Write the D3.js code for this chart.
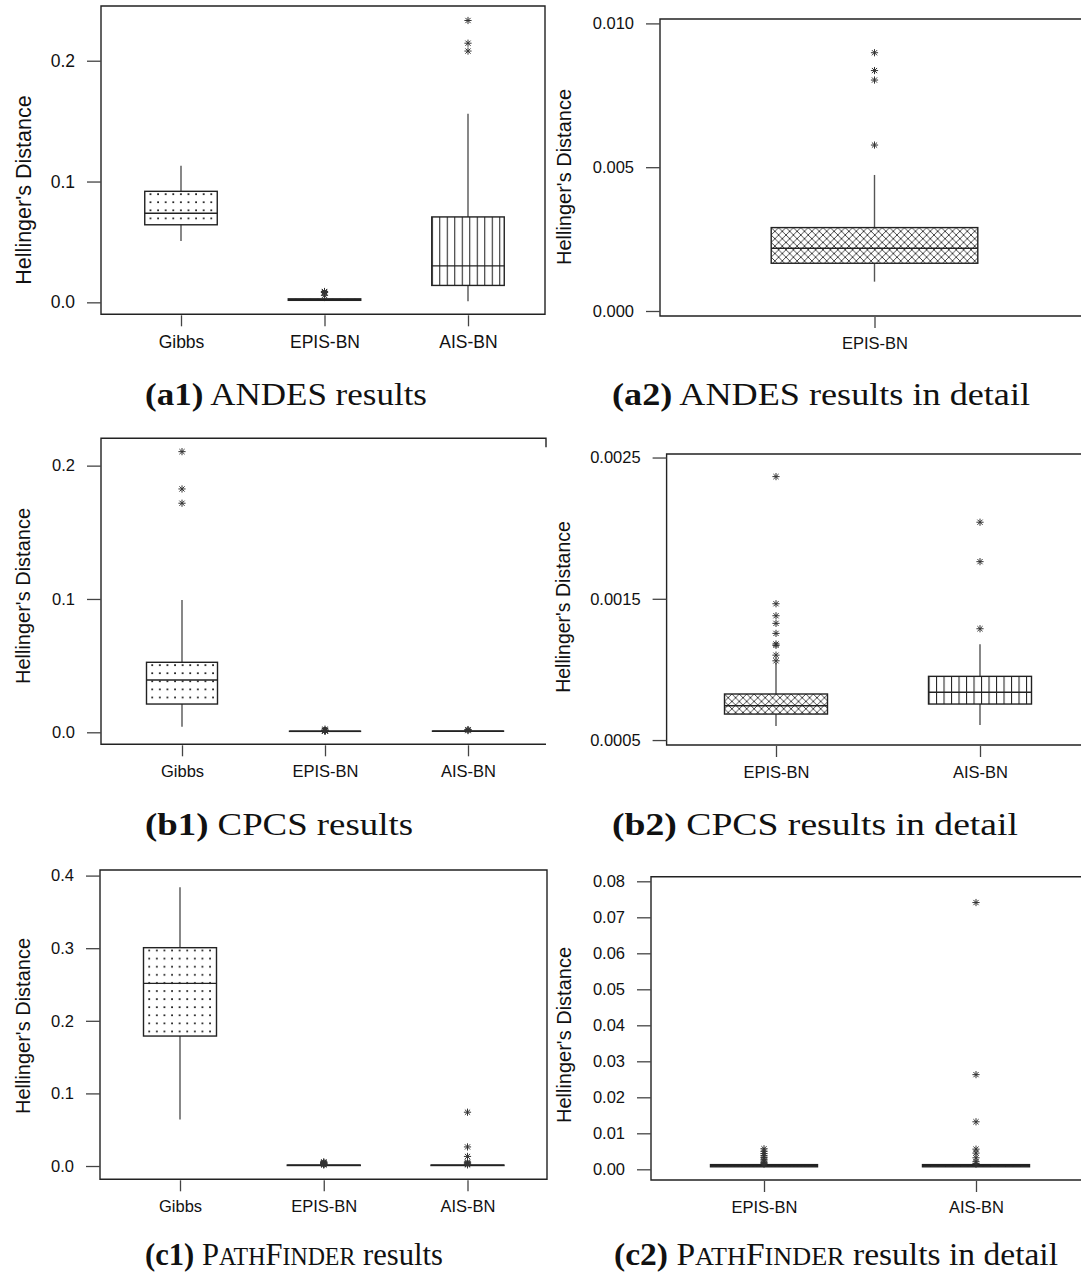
<!DOCTYPE html>
<html><head><meta charset="utf-8">
<script src="https://cdn.jsdelivr.net/npm/d3@7"></script>
<style>body{margin:0;background:#fff}svg{display:block}</style>
</head><body>
<svg id="chart" width="1081" height="1279"></svg>
<script>
// ---------- DATA (box stats: [lower whisker, Q1, median, Q3, upper whisker]) ----------
const allMethods = ["Gibbs", "EPIS-BN", "AIS-BN"];
const detailMethodsA = ["EPIS-BN"];
const detailMethods = ["EPIS-BN", "AIS-BN"];

const andesGibbs = [0.0507, 0.0642, 0.0737, 0.0919, 0.1131];
const andesGibbsOut = [];
const andesEpis = [0.00102, 0.00166, 0.00218, 0.0029, 0.00473];
const andesEpisOut = [0.00577, 0.00803, 0.00836, 0.00898];
const andesAis = [0.001, 0.0140, 0.0302, 0.0707, 0.1562];
const andesAisOut = [0.2080, 0.2145, 0.2333];

const cpcsGibbs = [0.0042, 0.0212, 0.0392, 0.0525, 0.0993];
const cpcsGibbsOut = [0.1718, 0.1825, 0.2105];
const cpcsEpis = [0.000600, 0.000684, 0.000743, 0.000826, 0.001045];
const cpcsEpisOut = [0.001061, 0.001101, 0.001170, 0.001180, 0.001255, 0.001326, 0.001380, 0.001465, 0.002365];
const cpcsAis = [0.000606, 0.000755, 0.000838, 0.000951, 0.001178];
const cpcsAisOut = [0.001288, 0.001763, 0.002042];

const pfGibbs = [0.0640, 0.1790, 0.2516, 0.3007, 0.3838];
const pfGibbsOut = [];
const pfEpis = [0.0005, 0.0007, 0.0010, 0.0013, 0.0014];
const pfEpisOut = [0.0016, 0.0019, 0.0023, 0.0028, 0.0033, 0.0038, 0.0044, 0.0050, 0.0057];
const pfAis = [0.0005, 0.0007, 0.0010, 0.0013, 0.0014];
const pfAisOut = [0.0016, 0.0021, 0.0032, 0.0045, 0.0056, 0.0132, 0.0263, 0.0741];

const ticksAndes = [0.0, 0.1, 0.2];
const tickLabelsAndes = ["0.0", "0.1", "0.2"];
const ticksAndesDetail = [0.000, 0.005, 0.010];
const tickLabelsAndesDetail = ["0.000", "0.005", "0.010"];
const ticksCpcs = [0.0, 0.1, 0.2];
const tickLabelsCpcs = ["0.0", "0.1", "0.2"];
const ticksCpcsDetail = [0.0005, 0.0015, 0.0025];
const tickLabelsCpcsDetail = ["0.0005", "0.0015", "0.0025"];
const ticksPf = [0.0, 0.1, 0.2, 0.3, 0.4];
const tickLabelsPf = ["0.0", "0.1", "0.2", "0.3", "0.4"];
const ticksPfDetail = [0.00, 0.01, 0.02, 0.03, 0.04, 0.05, 0.06, 0.07, 0.08];
const tickLabelsPfDetail = ["0.00", "0.01", "0.02", "0.03", "0.04", "0.05", "0.06", "0.07", "0.08"];

const yTitle = "Hellinger's Distance";

// ---------- DRAWING ----------
const svg = d3.select("#chart");
const defs = svg.append("defs");
const INK = "#222";
let patId = 0;

function makePattern(kind, x0, y0) {
  const id = "pat" + (patId++);
  const p = defs.append("pattern").attr("id", id).attr("patternUnits", "userSpaceOnUse");
  if (kind === "Gibbs") {
    p.attr("width", 7.6).attr("height", 8.1).attr("x", x0).attr("y", y0);
    p.append("rect").attr("x", 4.9).attr("y", 2.0).attr("width", 1.7).attr("height", 1.7).attr("fill", "#111");
  } else if (kind === "EPIS-BN") {
    const s = 7.4;
    p.attr("width", s).attr("height", s).attr("x", x0).attr("y", y0);
    p.append("path").attr("d", `M0,0L${s},${s}M${s},0L0,${s}M-1,${s-1}L1,${s+1}M${s-1},-1L${s+1},1`)
      .attr("stroke", "#333").attr("stroke-width", 0.9).attr("fill", "none");
  } else {
    p.attr("width", 7.5).attr("height", 10).attr("x", x0).attr("y", y0);
    p.append("line").attr("x1", 0.5).attr("x2", 0.5).attr("y1", 0).attr("y2", 10)
      .attr("stroke", "#222").attr("stroke-width", 1.1);
  }
  return "url(#" + id + ")";
}

function star(g, cx, cy) {
  const r = 3.6, d = 2.6;
  g.append("path")
    .attr("d", `M${cx-r},${cy}H${cx+r}M${cx},${cy-r}V${cy+r}M${cx-d},${cy-d}L${cx+d},${cy+d}M${cx-d},${cy+d}L${cx+d},${cy-d}`)
    .attr("stroke", "#333").attr("stroke-width", 1).attr("fill", "none");
}

function drawPanel(p) {
  const g = svg.append("g");
  const f = p.frame;
  const y = d3.scaleLinear().domain(p.domain).range([f.b, f.t]);
  const x = d3.scalePoint().domain(p.cats).range(p.xRange);

  let d;
  if (p.partialRight) d = `M${f.r},${f.t + 9}V${f.t}H${f.l}V${f.b}H${f.r}`;
  else d = `M${f.l},${f.t}H${f.r}V${f.b}H${f.l}Z`;
  g.append("path").attr("d", d).attr("fill", "none").attr("stroke", INK).attr("stroke-width", 1.4);

  const ya = d3.axisLeft(y).tickValues(p.ticks).tickFormat((v, i) => p.tickLabels[i]).tickSize(14).tickPadding(12);
  const yg = g.append("g").attr("transform", `translate(${f.l},0)`).call(ya);
  yg.select(".domain").remove();
  yg.selectAll("line").attr("stroke", "#444").attr("stroke-width", 1.3);
  yg.selectAll("text").attr("font-size", p.tickFont).attr("font-family", "Liberation Sans, Arial, sans-serif").attr("fill", "#111");

  const xa = d3.axisBottom(x).tickSize(11).tickPadding(9);
  const xg = g.append("g").attr("transform", `translate(0,${f.b + 1})`).call(xa);
  xg.select(".domain").remove();
  xg.selectAll("line").attr("stroke", "#444").attr("stroke-width", 1.3);
  xg.selectAll("text").attr("font-size", p.catFont).attr("font-family", "Liberation Sans, Arial, sans-serif").attr("fill", "#111");

  g.append("text")
    .attr("transform", `translate(${p.titleX},${p.titleY}) rotate(-90)`)
    .attr("text-anchor", "middle").attr("dy", "0.36em")
    .attr("font-size", p.titleFont).attr("font-family", "Liberation Sans, Arial, sans-serif").attr("fill", "#111")
    .text(yTitle);

  p.cats.forEach((c, i) => {
    const [lo, q1, med, q3, hi] = p.stats[i];
    const cx = x(c), w = p.boxW, x0 = cx - w / 2;
    const ln = (ya1, ya2, col, sw) => g.append("line").attr("x1", cx).attr("x2", cx).attr("y1", ya1).attr("y2", ya2)
      .attr("stroke", col).attr("stroke-width", sw);
    ln(y(hi), y(q3), "#555", 1.4);
    ln(y(q1), y(lo), "#555", 1.4);
    g.append("rect").attr("x", x0).attr("y", y(q3)).attr("width", w).attr("height", Math.max(0.01, y(q1) - y(q3)))
      .attr("fill", makePattern(c, x0, y(q3))).attr("stroke", INK).attr("stroke-width", 1.4);
    g.append("line").attr("x1", x0).attr("x2", x0 + w).attr("y1", y(med)).attr("y2", y(med))
      .attr("stroke", INK).attr("stroke-width", 1.4);
    p.outs[i].forEach(v => star(g, cx, y(v)));
  });
}

const panels = [
  { cats: allMethods, stats: [andesGibbs, andesEpis, andesAis], outs: [andesGibbsOut, andesEpisOut, andesAisOut],
    ticks: ticksAndes, tickLabels: tickLabelsAndes, frame: { l: 101, t: 6, r: 545, b: 314.3 },
    domain: [-0.0099, 0.2453], xRange: [181, 468], boxW: 72.5, tickFont: 17.5, catFont: 17.5, titleFont: 21.5, titleX: 23, titleY: 190 },
  { cats: detailMethodsA, stats: [andesEpis], outs: [andesEpisOut],
    ticks: ticksAndesDetail, tickLabels: tickLabelsAndesDetail, frame: { l: 660, t: 19, r: 1100, b: 316 },
    domain: [-0.000174, 0.010153], xRange: [874.5, 874.5], boxW: 206.6, tickFont: 16.5, catFont: 16.5, titleFont: 20, titleX: 564, titleY: 177 },
  { cats: allMethods, stats: [cpcsGibbs, cpcsEpis, cpcsAis], outs: [cpcsGibbsOut, cpcsEpisOut, cpcsAisOut],
    ticks: ticksCpcs, tickLabels: tickLabelsCpcs, frame: { l: 101, t: 438.3, r: 546, b: 744.3 }, partialRight: true,
    domain: [-0.0090, 0.2205], xRange: [182, 468], boxW: 71, tickFont: 16.5, catFont: 16.5, titleFont: 20, titleX: 23, titleY: 596 },
  { cats: detailMethods, stats: [cpcsEpis, cpcsAis], outs: [cpcsEpisOut, cpcsAisOut],
    ticks: ticksCpcsDetail, tickLabels: tickLabelsCpcsDetail, frame: { l: 666.6, t: 454, r: 1100, b: 745 },
    domain: [0.000465, 0.002525], xRange: [776, 980], boxW: 103, tickFont: 16.5, catFont: 16.5, titleFont: 19.5, titleX: 563, titleY: 607 },
  { cats: allMethods, stats: [pfGibbs, pfEpis, pfAis], outs: [pfGibbsOut, pfEpisOut, pfAisOut],
    ticks: ticksPf, tickLabels: tickLabelsPf, frame: { l: 100, t: 870, r: 547, b: 1179.3 },
    domain: [-0.0183, 0.4077], xRange: [180, 467.5], boxW: 73, tickFont: 16.5, catFont: 16.5, titleFont: 20, titleX: 23, titleY: 1026 },
  { cats: detailMethods, stats: [pfEpis, pfAis], outs: [pfEpisOut, pfAisOut],
    ticks: ticksPfDetail, tickLabels: tickLabelsPfDetail, frame: { l: 651, t: 876.7, r: 1100, b: 1180 },
    domain: [-0.00297, 0.08128], xRange: [764, 976], boxW: 107, tickFont: 16.5, catFont: 16.5, titleFont: 20, titleX: 564, titleY: 1035 }
];
panels.forEach(drawPanel);

// ---------- CAPTIONS ----------
const captions = [
  { x: 145, y: 405, w: 282, label: "(a1)", parts: [["ANDES results", 1]] },
  { x: 612, y: 405, w: 418, label: "(a2)", parts: [["ANDES results in detail", 1]] },
  { x: 145, y: 835, w: 268, label: "(b1)", parts: [["CPCS results", 1]] },
  { x: 612, y: 835, w: 406, label: "(b2)", parts: [["CPCS results in detail", 1]] },
  { x: 145, y: 1265, w: 298, label: "(c1)", parts: [["P", 1], ["ATH", 0.78], ["F", 1], ["INDER", 0.78], [" results", 1]] },
  { x: 614, y: 1265, w: 444, label: "(c2)", parts: [["P", 1], ["ATH", 0.78], ["F", 1], ["INDER", 0.78], [" results in detail", 1]] }
];
const capFont = 31;
captions.forEach(c => {
  const t = svg.append("text").attr("x", c.x).attr("y", c.y)
    .attr("font-family", "Liberation Serif, Times New Roman, serif").attr("font-size", capFont).attr("fill", "#111")
    .attr("textLength", c.w).attr("lengthAdjust", "spacingAndGlyphs");
  t.append("tspan").attr("font-weight", "bold").text(c.label);
  t.append("tspan").text(" ");
  c.parts.forEach(([s, k]) => t.append("tspan").attr("font-size", capFont * k).text(s));
});
</script>
</body></html>
